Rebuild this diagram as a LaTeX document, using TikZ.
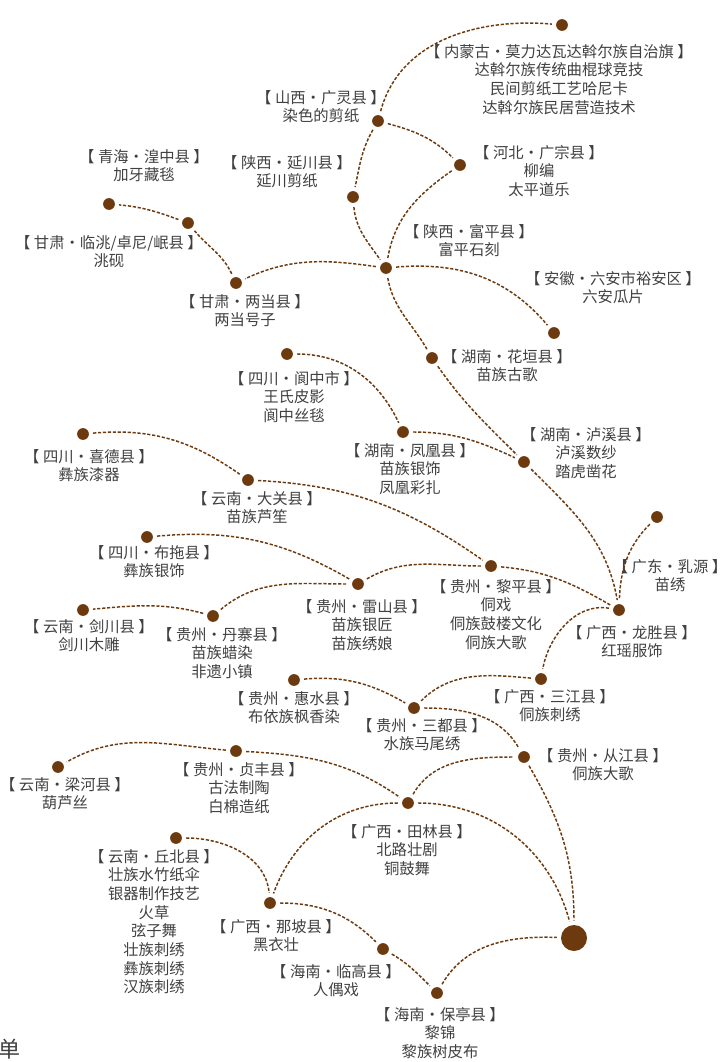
\documentclass[tikz,border=0pt]{standalone}
\usepackage{fontspec}
\newfontfamily\cjk{Noto Sans CJK SC}
\definecolor{bark}{RGB}{108,58,14}
\definecolor{ink}{RGB}{64,64,64}

\begin{document}
\begin{tikzpicture}[x=0.75pt, y=0.75pt,
  spot/.style={circle, fill=bark, inner sep=0pt, minimum size=8.8pt},
  tag/.style={align=center, anchor=north, inner sep=0pt, text=ink, font=\cjk\fontsize{11.5}{14}\selectfont},
  trail/.style={draw=bark, line width=1.1pt, dash pattern=on 2.4pt off 1.3pt, shorten <=3pt, shorten >=3pt}]
\useasboundingbox (0,0) rectangle (727,-1062);

% dots
\node[spot] (nmg) at (562,-25) {};
\node[spot] (guangling) at (378,-121) {};
\node[spot] (guangzong) at (460,-165) {};
\node[spot] (yanchuan) at (353,-197) {};
\node[spot] (fuping) at (386,-268) {};
\node[spot] (huangzhong) at (109,-204) {};
\node[spot] (lintao) at (188,-223) {};
\node[spot] (liangdang) at (236,-283) {};
\node[spot] (yuan) at (554,-333) {};
\node[spot] (huayuan) at (432,-358) {};
\node[spot] (langzhong) at (287,-354) {};
\node[spot] (fenghuang) at (403,-432) {};
\node[spot] (luxi) at (524,-462) {};
\node[spot] (xide) at (83,-434) {};
\node[spot] (daguan) at (248,-480) {};
\node[spot] (ruyuan) at (657,-517) {};
\node[spot] (liping) at (491,-566) {};
\node[spot] (longsheng) at (619,-610) {};
\node[spot] (butuo) at (147,-537) {};
\node[spot] (jianchuan) at (83,-610) {};
\node[spot] (danzhai) at (213,-616) {};
\node[spot] (leishan) at (358,-584) {};
\node[spot] (huishui) at (294,-680) {};
\node[spot] (sanjiang) at (541,-679) {};
\node[spot] (sandu) at (414,-708) {};
\node[spot] (congjiang) at (524,-757) {};
\node[spot] (tianlin) at (408,-803) {};
\node[spot] (zhenfeng) at (236,-751) {};
\node[spot] (lianghe) at (58,-767) {};
\node[spot] (qiubei) at (176,-838) {};
\node[spot] (napo) at (270,-903) {};
\node[spot] (lingao) at (383,-949) {};
\node[spot] (baoting) at (437,-993) {};
\node[spot, minimum size=19.5pt] (hub) at (574,-938) {};

% labels
\node[tag] (nmgtag) at (559,-44) {【 内蒙古·莫力达瓦达斡尔族自治旗 】\\达斡尔族传统曲棍球竞技\\民间剪纸工艺哈尼卡\\达斡尔族民居营造技术};
\node[tag] (guanglingtag) at (321,-90) {【 山西·广灵县 】\\染色的剪纸};
\node[tag] (guangzongtag) at (539,-145) {【 河北·广宗县 】\\柳编\\太平道乐};
\node[tag] (yanchuantag) at (287,-155) {【 陕西·延川县 】\\延川剪纸};
\node[tag] (huangzhongtag) at (144,-149) {【 青海·湟中县 】\\加牙藏毯};
\node[tag] (lintaotag) at (109,-235) {【 甘肃·临洮/卓尼/岷县 】\\洮砚};
\node[tag] (liangdangtag) at (245,-294) {【 甘肃·两当县 】\\两当号子};
\node[tag] (fupingtag) at (469,-224) {【 陕西·富平县 】\\富平石刻};
\node[tag] (yuantag) at (613,-271) {【 安徽·六安市裕安区 】\\六安瓜片};
\node[tag] (huayuantag) at (507,-349) {【 湖南·花垣县 】\\苗族古歌};
\node[tag] (langzhongtag) at (294,-371) {【 四川·阆中市 】\\王氏皮影\\阆中丝毯};
\node[tag] (fenghuangtag) at (410,-443) {【 湖南·凤凰县 】\\苗族银饰\\凤凰彩扎};
\node[tag] (luxitag) at (586,-427) {【 湖南·泸溪县 】\\泸溪数纱\\踏虎凿花};
\node[tag] (xidetag) at (89,-449) {【 四川·喜德县 】\\彝族漆器};
\node[tag] (daguantag) at (257,-491) {【 云南·大关县 】\\苗族芦笙};
\node[tag] (ruyuantag) at (670,-559) {【 广东·乳源 】\\苗绣};
\node[tag] (lipingtag) at (496,-579) {【 贵州·黎平县 】\\侗戏\\侗族鼓楼文化\\侗族大歌};
\node[tag] (longshengtag) at (632,-625) {【 广西·龙胜县 】\\红瑶服饰};
\node[tag] (butuotag) at (154,-545) {【 四川·布拖县 】\\彝族银饰};
\node[tag] (jianchuantag) at (89,-619) {【 云南·剑川县 】\\剑川木雕};
\node[tag] (danzhaitag) at (222,-627) {【 贵州·丹寨县 】\\苗族蜡染\\非遗小镇};
\node[tag] (leishantag) at (362,-599) {【 贵州·雷山县 】\\苗族银匠\\苗族绣娘};
\node[tag] (huishuitag) at (294,-691) {【 贵州·惠水县 】\\布依族枫香染};
\node[tag] (sanjiangtag) at (550,-689) {【 广西·三江县 】\\侗族刺绣};
\node[tag] (sandutag) at (422,-718) {【 贵州·三都县 】\\水族马尾绣};
\node[tag] (congjiangtag) at (603,-748) {【 贵州·从江县 】\\侗族大歌};
\node[tag] (tianlintag) at (407,-824) {【 广西·田林县 】\\北路壮剧\\铜鼓舞};
\node[tag] (zhenfengtag) at (239,-762) {【 贵州·贞丰县 】\\古法制陶\\白棉造纸};
\node[tag] (lianghetag) at (65,-777) {【 云南·梁河县 】\\葫芦丝};
\node[tag] (qiubeitag) at (154,-849) {【 云南·丘北县 】\\壮族水竹纸伞\\银器制作技艺\\火草\\弦子舞\\壮族刺绣\\彝族刺绣\\汉族刺绣};
\node[tag] (napotag) at (276,-919) {【 广西·那坡县 】\\黑衣壮};
\node[tag] (lingaotag) at (336,-964) {【 海南·临高县 】\\人偶戏};
\node[tag] (baotingtag) at (440,-1007) {【 海南·保亭县 】\\黎锦\\黎族树皮布};
\node[inner sep=0pt, text=ink, font=\cjk\fontsize{16.5}{18}\selectfont] (dan) at (9,-1049) {单};

% trails
\draw[trail] (guangling) to[out=75,in=175] (nmg);
\draw[trail] (guangling) to[out=-15,in=135] (guangzong);
\draw[trail] (guangling) to[out=-120,in=78] (yanchuan);
\draw[trail] (yanchuan) to[out=-85,in=125] (fuping);
\draw[trail] (guangzong) to[out=-145,in=80] (fuping);
\draw[trail] (fuping) to[out=172,in=25] (liangdang);
\draw[trail] (liangdang) to[out=115,in=-50] (lintao);
\draw[trail] (lintao) to[out=160,in=-5] (huangzhong);
\draw[trail] (fuping) to[out=5,in=130] (yuan);
\draw[trail] (fuping) to[out=-80,in=120] (huayuan);
\draw[trail] (huayuan) to[out=-55,in=135] (luxi);
\draw[trail] (langzhong) to[out=0,in=115] (fenghuang);
\draw[trail] (fenghuang) to[out=0,in=155] (luxi);
\draw[trail] (luxi) to[out=-45,in=100] (longsheng);
\draw[trail] (ruyuan) to[out=-135,in=88] (longsheng);
\draw[trail] (xide) to[out=5,in=145] (daguan);
\draw[trail] (daguan) to[out=-3,in=145] (liping);
\draw[trail] (liping) to[out=-5,in=150] (longsheng);
\draw[trail] (leishan) to[out=30,in=180] (liping);
\draw[trail] (butuo) to[out=5,in=150] (leishan);
\draw[trail] (danzhai) to[out=40,in=180] (leishan);
\draw[trail] (danzhai) to[out=165,in=5] (jianchuan);
\draw[trail] (longsheng) to[out=170,in=80] (sanjiang);
\draw[trail] (sanjiang) to[out=175,in=45] (sandu);
\draw[trail] (huishui) to[out=5,in=150] (sandu);
\draw[trail] (sandu) to[out=0,in=120] (congjiang);
\draw[trail] (congjiang) to[out=-60,in=90] (hub);
\draw[trail] (tianlin) to[out=60,in=180] (congjiang);
\draw[trail] (tianlin) to[out=0,in=105] (hub);
\draw[trail] (zhenfeng) to[out=-3,in=145] (tianlin);
\draw[trail] (zhenfeng) to[out=175,in=30] (lianghe);
\draw[trail] (tianlin) to[out=180,in=70] (napo);
\draw[trail] (qiubei) to[out=0,in=95] (napo);
\draw[trail] (napo) to[out=0,in=135] (lingao);
\draw[trail] (lingao) to[out=-30,in=135] (baoting);
\draw[trail] (baoting) to[out=60,in=178] (hub);
\end{tikzpicture}
\end{document}
